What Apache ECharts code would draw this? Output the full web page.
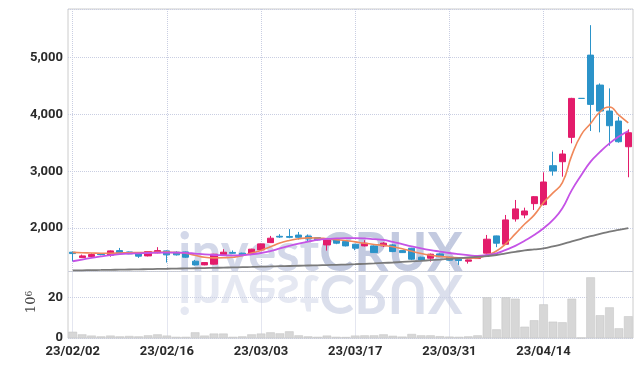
<!DOCTYPE html>
<html>
<head>
<meta charset="utf-8">
<script src="https://cdn.jsdelivr.net/npm/echarts@6/dist/echarts.min.js"></script>
<style>
html,body{margin:0;padding:0;background:#fff;}
#chart{width:642px;height:366px;}
</style>
</head>
<body>
<div id="chart"></div>
<script>
const dates = ["23/02/02","23/02/03","23/02/06","23/02/07","23/02/08","23/02/09","23/02/10","23/02/13","23/02/14","23/02/15",
"23/02/16","23/02/17","23/02/20","23/02/21","23/02/22","23/02/23","23/02/24","23/02/27","23/02/28","23/03/02",
"23/03/03","23/03/06","23/03/07","23/03/08","23/03/09","23/03/10","23/03/13","23/03/14","23/03/15","23/03/16",
"23/03/17","23/03/20","23/03/21","23/03/22","23/03/23","23/03/24","23/03/27","23/03/28","23/03/29","23/03/30",
"23/03/31","23/04/03","23/04/04","23/04/05","23/04/06","23/04/07","23/04/10","23/04/11","23/04/12","23/04/13",
"23/04/14","23/04/17","23/04/18","23/04/19","23/04/20","23/04/21","23/04/24","23/04/25","23/04/26","23/04/27"];

const opens = [1579,1484,1502,1549,1526,1607,1584,1562,1514,1567,
1602,1579,1584,1421,1356,1369,1537,1575,1562,1549,
1619,1747,1858,1855,1880,1862,1835,1707,1795,1765,
1719,1690,1690,1690,1707,1607,1649,1491,1474,1549,
1491,1456,1421,1467,1562,1865,1719,2163,2233,2432,
2414,3098,3168,3596,4280,5040,4514,4058,3882,3431];
const closes = [1555,1514,1537,1537,1602,1567,1550,1509,1590,1607,
1532,1532,1491,1356,1397,1544,1579,1560,1532,1632,
1725,1825,1845,1840,1840,1812,1795,1795,1737,1690,
1649,1737,1572,1737,1590,1572,1456,1444,1544,1502,
1439,1432,1444,1502,1807,1737,2146,2339,2303,2554,
2812,3005,3303,4280,4280,4175,4058,3800,3519,3677];
const lows = [1420,1479,1490,1525,1500,1560,1545,1479,1505,1560,
1397,1520,1480,1345,1350,1360,1530,1550,1525,1540,
1610,1740,1830,1825,1800,1770,1785,1607,1720,1680,
1614,1680,1565,1670,1580,1565,1440,1430,1414,1495,
1430,1356,1379,1460,1555,1667,1710,2116,2175,2321,
2400,2923,2905,3491,4280,3707,3684,3449,3502,2895];
const highs = [1590,1537,1560,1565,1610,1654,1590,1570,1600,1667,
1610,1595,1590,1444,1405,1550,1632,1610,1570,1640,
1730,1865,1895,1985,1935,1890,1845,1800,1810,1780,
1725,1790,1700,1755,1720,1614,1655,1500,1555,1560,
1500,1460,1450,1505,1882,1870,2233,2496,2361,2565,
2982,3344,3373,4290,4280,5566,4543,4456,3958,3736];
const volumes = [3.1,1.8,1.2,0.8,1.2,0.8,1.0,0.8,1.3,1.8,
1.2,0.6,0.6,2.8,1.2,2.2,2.2,0.6,0.8,1.8,
2.2,2.8,2.3,3.3,1.3,0.8,0.6,1.2,0.6,0.5,
1.2,1.3,1.3,1.8,1.1,0.7,2.0,1.3,1.3,0.9,
0.7,0.6,0.8,1.3,20.2,4.3,20.2,19.5,5.6,8.8,
16.7,8.1,7.8,19.5,0,30.1,11.3,15.2,4.8,10.8];
const ma5 = [1575,1570,1565,1560,1560,1565,1570,1572,1575,1578,
1580,1575,1560,1525,1490,1480,1482,1490,1515,1565,
1610,1675,1740,1785,1815,1830,1828,1815,1800,1785,
1760,1735,1715,1700,1675,1640,1595,1555,1525,1505,
1490,1480,1475,1480,1530,1600,1730,1900,2075,2230,
2450,2620,2800,3280,3640,3840,4045,4130,3985,3850];
const ma10 = [1420,1450,1478,1505,1528,1545,1555,1560,1565,1570,
1572,1572,1568,1555,1540,1530,1525,1522,1525,1540,
1565,1600,1645,1690,1730,1765,1795,1812,1820,1825,
1825,1820,1808,1795,1760,1720,1680,1645,1615,1590,
1565,1545,1528,1514,1530,1560,1620,1690,1780,1880,
2000,2146,2350,2670,2930,3170,3340,3490,3610,3707];
const maLong = [1258,1261,1264,1267,1270,1272,1275,1278,1281,1285,
1288,1291,1294,1297,1300,1304,1308,1312,1316,1320,
1325,1329,1333,1337,1341,1345,1349,1353,1357,1362,
1368,1375,1382,1390,1398,1408,1418,1428,1439,1450,
1462,1474,1486,1498,1510,1530,1560,1585,1610,1628,
1645,1680,1720,1770,1815,1860,1900,1940,1970,2000];

const upColor = '#e31c6b';
const downColor = '#2b93c9';
const fontFam = 'Roboto, "Liberation Sans", sans-serif';
const gridLine = {color: '#c9cee2', type: 'dotted', width: 1};
const wmFont = 'Lato, "Liberation Sans", sans-serif';

const candleData = dates.map((d, i) => {
  const item = {value: [opens[i], closes[i], lows[i], highs[i]]};
  if (opens[i] === closes[i]) item.itemStyle = {borderColor: downColor, color: downColor};
  return item;
});

const wmRich = {
  a: {fontSize: 53, fontFamily: wmFont, fontWeight: 'bold', fill: '#d3d8e9'},
  b: {fontSize: 53, fontFamily: wmFont, fontWeight: 'bold', fill: '#c3cae0'}
};

const chart = echarts.init(document.getElementById('chart'));
chart.setOption({
  animation: false,
  backgroundColor: '#fff',
  grid: [
    {left: 68, right: 9, top: 9, height: 262.5, show: true, borderColor: '#cccccc', borderWidth: 1},
    {left: 68, right: 9, top: 271.5, height: 66.5, show: true, borderColor: '#cccccc', borderWidth: 1}
  ],
  xAxis: [
    {type: 'category', gridIndex: 0, data: dates, boundaryGap: true,
     axisLine: {show: false}, axisTick: {show: false}, axisLabel: {show: false},
     splitLine: {show: true, interval: 9, alignWithLabel: true, lineStyle: gridLine}},
    {type: 'category', gridIndex: 1, data: dates, boundaryGap: true,
     axisLine: {show: false}, axisTick: {show: false},
     axisLabel: {show: true, interval: 9, margin: 7, fontSize: 13, fontWeight: 'bold', color: '#2a2a2a', fontFamily: fontFam},
     splitLine: {show: true, interval: 9, alignWithLabel: true, lineStyle: gridLine}}
  ],
  yAxis: [
    {type: 'value', gridIndex: 0, min: 1240, max: 5850, scale: true,
     axisLine: {show: false}, axisTick: {show: false},
     axisLabel: {margin: 5, fontSize: 13, fontWeight: 'bold', color: '#2a2a2a', fontFamily: fontFam,
       showMinLabel: false, showMaxLabel: false,
       formatter: v => v.toLocaleString('en-US')},
     splitLine: {show: true, lineStyle: gridLine}},
    {type: 'value', gridIndex: 1, min: 0, max: 33, interval: 20,
     axisLine: {show: false}, axisTick: {show: false},
     axisLabel: {margin: 5, fontSize: 13, fontWeight: 'bold', color: '#2a2a2a', fontFamily: fontFam, showMaxLabel: false},
     splitLine: {show: true, lineStyle: gridLine}}
  ],
  graphic: [
    {type: 'group', x: 0, y: 273, scaleY: -1, silent: true, z: -10, children: [
      {type: 'text', x: 178, y: -19, style: {text: '{a|invest}{b|CRUX}', verticalAlign: 'middle', opacity: 0.6, rich: wmRich}}
    ]},
    {type: 'text', x: 178, y: 254, silent: true, z: -10, style: {
      text: '{a|invest}{b|CRUX}', verticalAlign: 'middle', opacity: 1, rich: wmRich
    }},
    {type: 'text', x: 32, y: 302, rotation: Math.PI / 2, silent: true, style: {
      text: '{a|10}{b|6}', align: 'center', verticalAlign: 'middle',
      rich: {a: {fontSize: 13, fontFamily: '"DejaVu Serif", serif', fill: '#444'},
             b: {fontSize: 9, fontFamily: '"DejaVu Serif", serif', fill: '#444', verticalAlign: 'top'}}
    }}
  ],
  series: [
    {type: 'candlestick', xAxisIndex: 0, yAxisIndex: 0, data: candleData, barWidth: '70%',
     itemStyle: {color: upColor, color0: downColor, borderColor: upColor, borderColor0: downColor, borderColorDoji: downColor, borderWidth: 1}},
    {type: 'line', name: 'MA5', xAxisIndex: 0, yAxisIndex: 0, data: ma5, smooth: true, showSymbol: false, z: 5,
     lineStyle: {color: '#f0885a', width: 1.6}},
    {type: 'line', name: 'MA10', xAxisIndex: 0, yAxisIndex: 0, data: ma10, smooth: true, showSymbol: false, z: 5,
     lineStyle: {color: '#c553e6', width: 1.8}},
    {type: 'line', name: 'MA', xAxisIndex: 0, yAxisIndex: 0, data: maLong, smooth: true, showSymbol: false, z: 5,
     lineStyle: {color: '#7a7a7a', width: 1.8}},
    {type: 'bar', xAxisIndex: 1, yAxisIndex: 1, data: volumes, barCategoryGap: '8%',
     itemStyle: {color: '#d7d7d7', borderColor: '#c2c2c2', borderWidth: 0.5}}
  ]
});
</script>
</body>
</html>
